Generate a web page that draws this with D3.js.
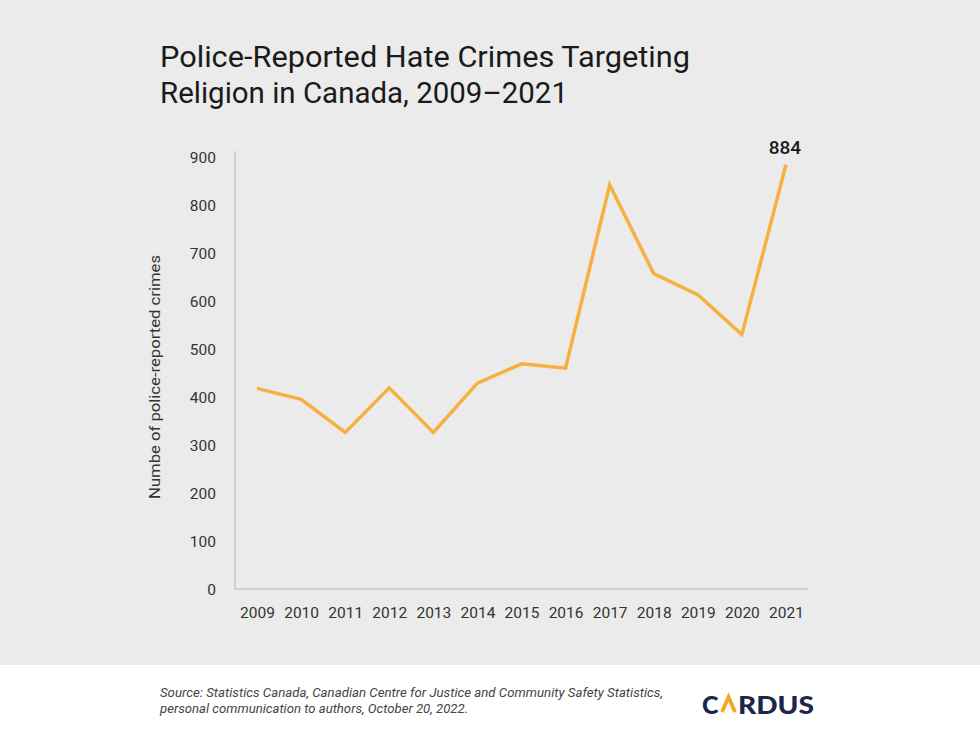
<!DOCTYPE html>
<html>
<head>
<meta charset="utf-8">
<script src="https://cdn.jsdelivr.net/npm/d3@7"></script>
<style>
  html, body { margin: 0; padding: 0; background: #ffffff; }
  svg { display: block; }
</style>
</head>
<body>
<svg id="chart" width="980" height="736"></svg>
<script>
const years = ["2009","2010","2011","2012","2013","2014","2015","2016","2017","2018","2019","2020","2021"];
const crimes = [418, 395, 326, 419, 326, 429, 469, 460, 842, 657, 613, 530, 884];
const yTicks = [0, 100, 200, 300, 400, 500, 600, 700, 800, 900];
const titleLines = ["Police-Reported Hate Crimes Targeting", "Religion in Canada, 2009–2021"];
const yAxisTitle = "Numbe of police-reported crimes";
const sourceLines = ["Source: Statistics Canada, Canadian Centre for Justice and Community Safety Statistics,", "personal communication to authors, October 20, 2022."];

const svg = d3.select("#chart");
const font = "Roboto, 'Noto Sans', sans-serif";

svg.append("rect").attr("x", 0).attr("y", 0).attr("width", 980).attr("height", 665).attr("fill", "#ebebeb");
svg.append("rect").attr("x", 0).attr("y", 665).attr("width", 980).attr("height", 71).attr("fill", "#ffffff");

// Title
const titleWidths = [530, 408];
titleLines.forEach((t, i) => {
  svg.append("text")
    .attr("x", 160).attr("y", 67 + i * 36)
    .attr("font-family", font).attr("font-size", 29).attr("fill", "#1a1a1a")
    .attr("textLength", titleWidths[i]).attr("lengthAdjust", "spacingAndGlyphs")
    .text(t);
});

const x = d3.scalePoint().domain(years).range([235, 808]).padding(0.5);
const y = d3.scaleLinear().domain([0, 900]).range([589, 157]);

// Axis lines
svg.append("line").attr("x1", 235).attr("x2", 235).attr("y1", 151).attr("y2", 589)
  .attr("stroke", "#c8c8c8").attr("stroke-width", 1.5);
svg.append("line").attr("x1", 235).attr("x2", 808).attr("y1", 589).attr("y2", 589)
  .attr("stroke", "#c8c8c8").attr("stroke-width", 1.5);

// Y ticks
const yAxis = d3.axisLeft(y).tickValues(yTicks).tickSize(0).tickPadding(0);
const yg = svg.append("g").attr("transform", "translate(216,1)").call(yAxis);
yg.select(".domain").remove();
yg.selectAll("text").attr("font-family", font).attr("font-size", 15.5).attr("fill", "#333");

// X ticks
const xAxis = d3.axisBottom(x).tickSize(0).tickPadding(0);
const xg = svg.append("g").attr("transform", "translate(0,607)").call(xAxis);
xg.select(".domain").remove();
xg.selectAll("text").attr("font-family", font).attr("font-size", 15.5).attr("fill", "#333");

// Y axis title
svg.append("text")
  .attr("transform", "translate(160,377) rotate(-90)")
  .attr("text-anchor", "middle")
  .attr("font-family", font).attr("font-size", 15).attr("fill", "#333")
  .attr("textLength", 244).attr("lengthAdjust", "spacingAndGlyphs")
  .text(yAxisTitle);

// Line
const line = d3.line().x((d, i) => x(years[i])).y(d => y(d));
svg.append("path").datum(crimes)
  .attr("d", line).attr("fill", "none")
  .attr("stroke", "#f5b041").attr("stroke-width", 3.5).attr("stroke-linejoin", "miter");

// Last value label
const lastI = crimes.length - 1;
svg.append("text")
  .attr("x", x(years[lastI]) - 1).attr("y", y(crimes[lastI]) - 11)
  .attr("text-anchor", "middle")
  .attr("font-family", font).attr("font-size", 19).attr("font-weight", 500).attr("fill", "#1a1a1a")
  .text(crimes[lastI]);

// Source
const sourceWidths = [503, 308];
sourceLines.forEach((t, i) => {
  svg.append("text")
    .attr("x", 160).attr("y", 697 + i * 16)
    .attr("font-family", font).attr("font-size", 13).attr("font-style", "italic").attr("fill", "#444")
    .attr("textLength", sourceWidths[i]).attr("lengthAdjust", "spacingAndGlyphs")
    .text(t);
});

// Logo
const logo = svg.append("g").attr("transform", "translate(702,714)");
logo.append("text").attr("x", 0).attr("y", 0)
  .attr("font-family", "Lato, Roboto, sans-serif").attr("font-weight", 900).attr("font-size", 25).attr("fill", "#1d2647")
  .text("C");
logo.append("path").attr("d", "M20,-2 L26.5,-17 L33,-2").attr("fill", "none")
  .attr("stroke", "#f5a623").attr("stroke-width", 3.8);
logo.append("text").attr("x", 36).attr("y", 0)
  .attr("font-family", "Lato, Roboto, sans-serif").attr("font-weight", 900).attr("font-size", 25).attr("fill", "#1d2647")
  .attr("textLength", 76).attr("lengthAdjust", "spacingAndGlyphs")
  .text("RDUS");
</script>
</body>
</html>
